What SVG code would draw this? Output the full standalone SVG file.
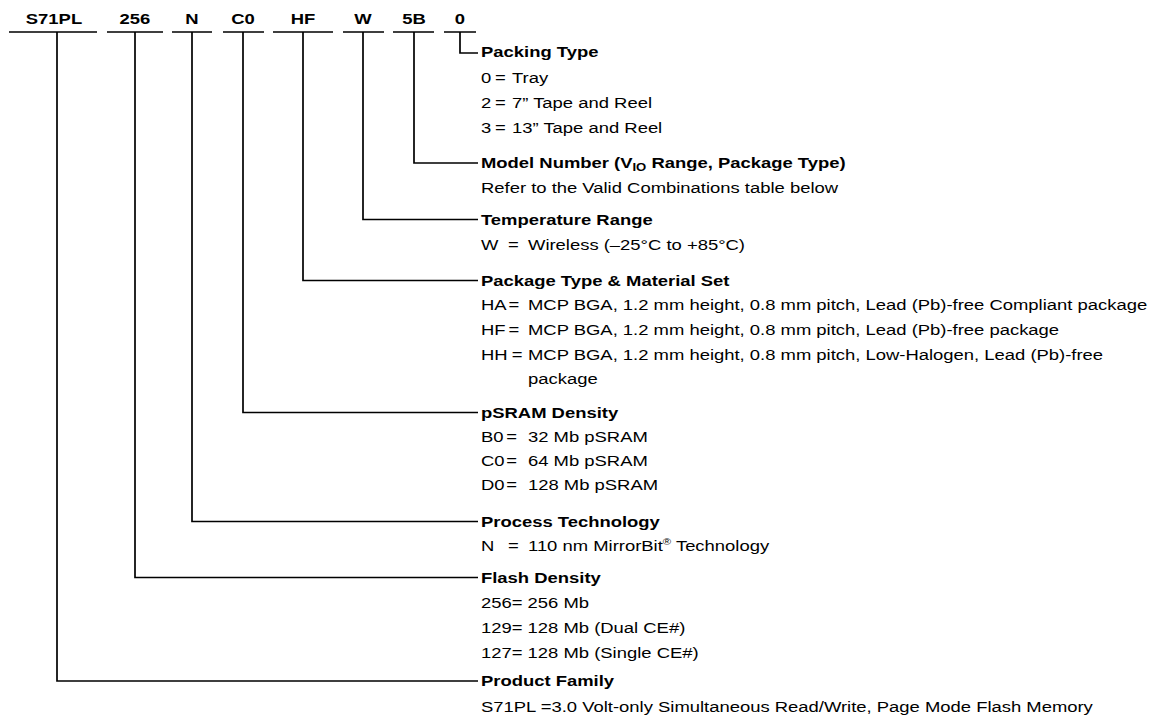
<svg xmlns="http://www.w3.org/2000/svg" width="1168" height="724" viewBox="0 0 1168 724">
<style>
text{font-family:"Liberation Sans",Arial,Helvetica,sans-serif;font-size:15.5px;fill:#000}
.b{font-weight:bold}
.lbl{font-weight:bold;text-anchor:middle}
.ln{stroke:#000;stroke-width:1.7;fill:none}
</style>
<rect width="1168" height="724" fill="#fff"/>
<g id="connectors">
<path class="ln" d="M9 32H97M107 32H163M172 32H212M223 32H264M273 32H333M343 32H384M393 32H434M444 32H476"/>
<path class="ln" d="M460 32V53H478"/>
<path class="ln" d="M414 32V163H478"/>
<path class="ln" d="M363 32V219.5H478"/>
<path class="ln" d="M303 32V280.5H478"/>
<path class="ln" d="M243 32V412.5H478"/>
<path class="ln" d="M192 32V521.5H478"/>
<path class="ln" d="M135 32V577.5H478"/>
<path class="ln" d="M57 32V681H478"/>
</g>
<g id="labels" transform="scale(1.19 1)">
<text class="lbl" x="45.38" y="24">S71PL</text>
<text class="lbl" x="113.45" y="24">256</text>
<text class="lbl" x="161.34" y="24">N</text>
<text class="lbl" x="204.2" y="24">C0</text>
<text class="lbl" x="254.62" y="24">HF</text>
<text class="lbl" x="305.04" y="24">W</text>
<text class="lbl" x="347.9" y="24">5B</text>
<text class="lbl" x="386.55" y="24">0</text>
</g>
<g id="packing" transform="scale(1.19 1)">
<text class="b" x="404.2" y="57.5">Packing Type</text>
<text y="83"><tspan x="404.2">0</tspan><tspan x="415.97">=</tspan><tspan x="430.25">Tray</tspan></text>
<text y="108"><tspan x="404.2">2</tspan><tspan x="415.97">=</tspan><tspan x="430.25">7” Tape and Reel</tspan></text>
<text y="133"><tspan x="404.2">3</tspan><tspan x="415.97">=</tspan><tspan x="430.25">13” Tape and Reel</tspan></text>
</g>
<g id="model" transform="scale(1.19 1)">
<text class="b" x="404.2" y="168">Model Number (V<tspan font-size="11" dy="3.5">IO</tspan><tspan dy="-3.5"> Range, Package Type)</tspan></text>
<text x="404.2" y="193">Refer to the Valid Combinations table below</text>
</g>
<g id="temperature" transform="scale(1.19 1)">
<text class="b" x="404.2" y="225">Temperature Range</text>
<text y="250"><tspan x="404.2">W</tspan><tspan x="426.89">=</tspan><tspan x="443.7">Wireless (–25°C to +85°C)</tspan></text>
</g>
<g id="package" transform="scale(1.19 1)">
<text class="b" x="404.2" y="286">Package Type &amp; Material Set</text>
<text y="310"><tspan x="404.2">HA</tspan><tspan x="427.3">=</tspan><tspan x="443.7">MCP BGA, 1.2 mm height, 0.8 mm pitch, Lead (Pb)-free Compliant package</tspan></text>
<text y="335"><tspan x="404.2">HF</tspan><tspan x="427.3">=</tspan><tspan x="443.7">MCP BGA, 1.2 mm height, 0.8 mm pitch, Lead (Pb)-free package</tspan></text>
<text y="360"><tspan x="404.2">HH</tspan><tspan x="430">=</tspan><tspan x="443.7">MCP BGA, 1.2 mm height, 0.8 mm pitch, Low-Halogen, Lead (Pb)-free</tspan></text>
<text x="443.7" y="384">package</text>
</g>
<g id="psram" transform="scale(1.19 1)">
<text class="b" x="404.2" y="418">pSRAM Density</text>
<text y="442"><tspan x="404.2">B0</tspan><tspan x="425.5">=</tspan><tspan x="443.7">32 Mb pSRAM</tspan></text>
<text y="466"><tspan x="404.2">C0</tspan><tspan x="425.5">=</tspan><tspan x="443.7">64 Mb pSRAM</tspan></text>
<text y="490"><tspan x="404.2">D0</tspan><tspan x="425.5">=</tspan><tspan x="443.7">128 Mb pSRAM</tspan></text>
</g>
<g id="process" transform="scale(1.19 1)">
<text class="b" x="404.2" y="527">Process Technology</text>
<text y="551"><tspan x="404.2">N</tspan><tspan x="426.89">=</tspan><tspan x="443.7">110 nm MirrorBit</tspan><tspan font-size="9.5" dy="-6">®</tspan><tspan dy="6"> Technology</tspan></text>
</g>
<g id="flash" transform="scale(1.19 1)">
<text class="b" x="404.2" y="583">Flash Density</text>
<text x="404.2" y="608">256= 256 Mb</text>
<text x="404.2" y="633">129= 128 Mb (Dual CE#)</text>
<text x="404.2" y="658">127= 128 Mb (Single CE#)</text>
</g>
<g id="family" transform="scale(1.19 1)">
<text class="b" x="404.2" y="686.5">Product Family</text>
<text x="404.2" y="712">S71PL =3.0 Volt-only Simultaneous Read/Write, Page Mode Flash Memory</text>
</g>
</svg>
